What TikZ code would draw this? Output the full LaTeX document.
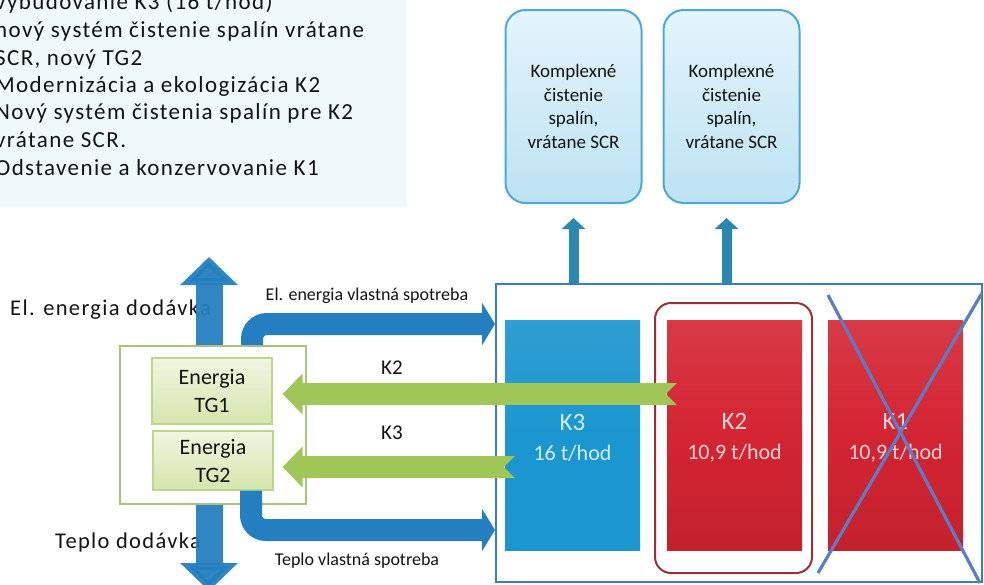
\documentclass[tikz,border=0pt]{standalone}
\usepackage{fontspec}
\setmainfont{Carlito}
\newfontfamily\spaced[LetterSpace=6]{Carlito}
\usetikzlibrary{arrows.meta,calc}
\definecolor{panelbg}{RGB}{239,248,251}
\definecolor{flowblue}{RGB}{35,127,192}
\definecolor{upblue}{RGB}{42,135,174}
\definecolor{flowgreen}{RGB}{160,198,88}
\definecolor{tgborder}{RGB}{190,214,140}
\definecolor{tgtop}{RGB}{240,246,225}
\definecolor{tgbot}{RGB}{212,229,172}
\definecolor{frameblue}{RGB}{58,126,184}
\definecolor{kthree}{RGB}{28,150,208}
\definecolor{kred}{RGB}{212,36,50}
\definecolor{ringred}{RGB}{150,50,55}
\definecolor{crossblue}{RGB}{92,125,196}
\definecolor{cleantop}{RGB}{228,244,251}
\definecolor{cleanbot}{RGB}{188,226,243}
\definecolor{cleanborder}{RGB}{74,170,210}
\definecolor{ink}{RGB}{20,20,20}
\begin{document}
\begin{tikzpicture}[x=1pt,y=-1pt,
  paneltext/.style={anchor=base west, inner sep=0pt, text=ink, font=\spaced\fontsize{23}{26}\selectfont},
  cleanbox/.style={draw=cleanborder, line width=2pt, rounded corners=20pt, top color=cleantop, bottom color=cleanbot, minimum width=136pt, minimum height=193pt, inner sep=0pt, align=center, text=ink, font=\fontsize{19}{23.5}\selectfont},
  uparr/.style={draw=upblue, line width=10pt, -{Triangle[length=11pt,width=23pt]}},
  kbox/.style={minimum width=135pt, minimum height=230pt, inner sep=0pt},
  klabel/.style={align=center, inner sep=0pt, font=\fontsize{22}{30}\selectfont},
  tgbox/.style={draw=tgborder, line width=1.2pt, top color=tgtop, bottom color=tgbot, minimum width=120pt, inner sep=0pt, align=center, text=ink, font=\fontsize{22}{28}\selectfont},
  bluearr/.style={draw=flowblue, line width=22pt, rounded corners=15pt, -{Triangle[length=13pt,width=42pt]}},
  greenarr/.style={draw=flowgreen, line width=22pt, {Triangle Cap[reversed]}-{Triangle[length=20pt,width=40pt]}},
  flowlabel/.style={anchor=base, inner sep=0pt, text=ink, font=\fontsize{18}{20}\selectfont},
  klab/.style={inner sep=0pt, text=ink, font=\fontsize{21}{24}\selectfont},
  dodlabel/.style={inner sep=0pt, anchor=base west, text=ink, font=\spaced\fontsize{22.5}{26}\selectfont}
]
\useasboundingbox (0,0) rectangle (984,584);
\fill[white] (0,0) rectangle (984,584);

% top-left text panel
\node (panel) [fill=panelbg, minimum width=407pt, minimum height=207pt, inner sep=0pt, anchor=north west] at (0,0) {};
\node (p1) [paneltext] at (-5,9) {vybudovanie K3 (16 t/hod)};
\node (p2) [paneltext] at (-5,37) {nový systém čistenie spalín vrátane};
\node (p3) [paneltext] at (-5,65) {SCR, nový TG2};
\node (p4) [paneltext] at (-5,92) {Modernizácia a ekologizácia K2};
\node (p5) [paneltext] at (-5,119) {Nový systém čistenia spalín pre K2};
\node (p6) [paneltext] at (-5,147) {vrátane SCR.};
\node (p7) [paneltext] at (-5,175) {Odstavenie a konzervovanie K1};

% cleaning units
\node (T1) [cleanbox] at (573.5,106.5) {Komplexné\\čistenie\\spalín,\\vrátane SCR};
\node (T2) [cleanbox] at (731.5,106.5) {Komplexné\\čistenie\\spalín,\\vrátane SCR};

% boiler house frame
\node (bigbox) [draw=frameblue, line width=2pt, minimum width=486pt, minimum height=298pt, inner sep=0pt] at (739,433) {};
\draw[uparr] (bigbox.north -| T1.south) -- ([yshift=-14pt]T1.south);
\draw[uparr] ([xshift=-5pt]bigbox.north -| T2.south) -- ([xshift=-5pt,yshift=-14pt]T2.south);

\node (K3) [kbox, top color=kthree!92!white, bottom color=kthree, middle color=kthree] at (572.5,435) {};
\node (K2) [kbox, top color=kred!90!white, bottom color=kred!92!black, middle color=kred] at (734.5,435) {};
\node (K1) [kbox, top color=kred!90!white, bottom color=kred!92!black, middle color=kred] at (895.5,435) {};
\node (K2ring) [draw=ringred, line width=2pt, rounded corners=16pt, minimum width=157pt, minimum height=270pt, inner sep=0pt] at (733.5,438) {};
\node (K3t) [klabel, text=white!82!kthree] at ([yshift=-3pt]K3.center) {{\fontsize{25}{30}\selectfont K3}\\16 t/hod};
\node (K2t) [klabel, text=white!80!kred] at ([yshift=-3pt]K2.center) {{\fontsize{25}{30}\selectfont K2}\\10,9 t/hod};
\node (K1t) [klabel, text=white!80!kred] at ([yshift=-3pt]K1.center) {{\fontsize{25}{30}\selectfont K1}\\10,9 t/hod};
\draw[crossblue, line width=3.2pt] (828,295) -- (980,583);
\draw[crossblue, line width=3.2pt] (982,293) -- (818,573);

% delivery labels and double arrow
\node (eldod) [dodlabel] at (10,315) {El. energia dodávka};
\node (tepdod) [dodlabel] at (55,548) {Teplo dodávka};
\coordinate (vtop) at (209,257);
\coordinate (vbot) at (209,591);
\draw[draw=flowblue, opacity=0.94, line width=27pt, {Triangle[length=28pt,width=56pt]}-{Triangle[length=28pt,width=56pt]}] (vtop) -- (vbot);

% turbogenerators
\node (gbox) [draw=tgborder!90!black, line width=1.6pt, fill=white, minimum width=186pt, minimum height=158pt, inner sep=0pt] at (213,425) {};
\node (TG1) [tgbox, minimum height=66pt] at (212,391) {Energia\\TG1};
\node (TG2) [tgbox, minimum height=59pt] at (213,460.5) {Energia\\TG2};

% own consumption
\draw[bluearr] ([xshift=39pt]gbox.north) |- ([yshift=-41pt]bigbox.north west);
\draw[bluearr] ([xshift=38pt]TG2.south) |- ([yshift=53pt]bigbox.south west);
\node (elvl) [flowlabel] at (367,300) {El. energia vlastná spotreba};
\node (tevl) [flowlabel] at (357,565) {Teplo vlastná spotreba};

% steam flows
\draw[greenarr] ([xshift=10pt,yshift=41pt]K2.west) -- ([xshift=10pt,yshift=-3pt]TG1.east);
\draw[greenarr] ([xshift=10pt,yshift=-32pt]K3.west) -- ([xshift=9pt,yshift=-6.5pt]TG2.east);
\node (k2lab) [klab] at (392,368) {K2};
\node (k3lab) [klab] at (392,433) {K3};
\end{tikzpicture}
\end{document}
